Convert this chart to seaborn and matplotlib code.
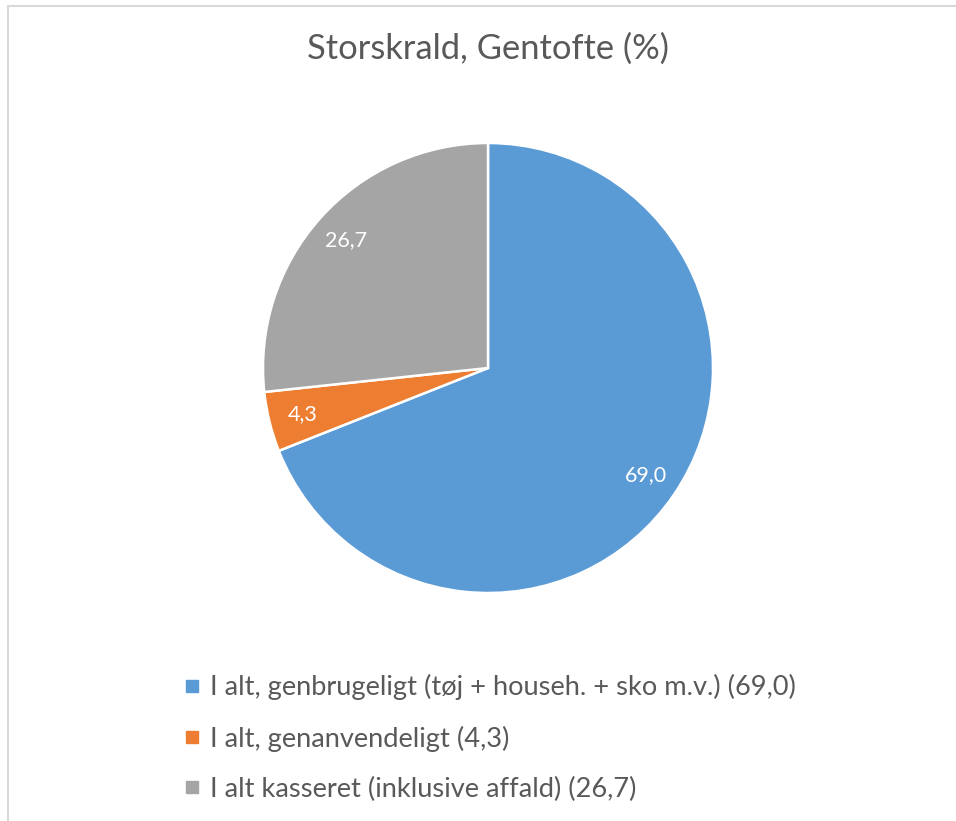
import matplotlib
matplotlib.use("Agg")
import matplotlib.pyplot as plt
import seaborn as sns
from matplotlib.lines import Line2D

# data
categories = [
    "I alt, genbrugeligt (tøj + househ. + sko m.v.)",
    "I alt, genanvendeligt",
    "I alt kasseret (inklusive affald)",
]
values = [69.0, 4.3, 26.7]
colors = ["#5B9BD5", "#ED7D31", "#A5A5A5"]
title = "Storskrald, Gentofte (%)"

sns.set_theme(style="white")
plt.rcParams["font.family"] = ["Lato", "DejaVu Sans"]

W, H = 956, 821
fig = plt.figure(figsize=(W / 100, H / 100), dpi=100)

# pie axes placed so the pie sits where it does in the reference
cx, cy, r = 488, 368, 225
ax = fig.add_axes([(cx - r) / W, (H - cy - r) / H, 2 * r / W, 2 * r / H])

fmt = lambda v: f"{v:.1f}".replace(".", ",")
wedges, texts = ax.pie(
    values,
    colors=colors,
    startangle=90,
    counterclock=False,
    labels=[fmt(v) for v in values],
    labeldistance=0.85,
    wedgeprops=dict(edgecolor="white", linewidth=1.8),
    textprops=dict(color="white", fontsize=15.5, ha="center", va="center"),
)
ax.set_xlim(-1, 1)
ax.set_ylim(-1, 1)
ax.axis("off")

# title centred over the pie, like the reference
fig.text(cx / W, 1 - 49 / H, title, ha="center", va="center",
         fontsize=24.8, color="#595959")

handles = [Line2D([], [], marker="s", linestyle="", markersize=8,
                  markerfacecolor=c, markeredgecolor=c) for c in colors]
leg_labels = [f"{c} ({fmt(v)})" for c, v in zip(categories, values)]
fig.legend(handles, leg_labels, loc="upper left",
           bbox_to_anchor=(184 / W, 1 - 674 / H), frameon=False,
           fontsize=19.6, labelcolor="#595959", handlelength=0.6,
           handletextpad=0.35, labelspacing=0.93, borderpad=0, borderaxespad=0)

# light chart border along the top and left edges
fig.add_artist(Line2D([7.5 / W, 7.5 / W], [0, 1 - 6.5 / H], color="#D9D9D9",
                      linewidth=1.5, transform=fig.transFigure))
fig.add_artist(Line2D([7.5 / W, 1], [1 - 6.5 / H, 1 - 6.5 / H], color="#D9D9D9",
                      linewidth=1.5, transform=fig.transFigure))

fig.savefig("out.png", dpi=100)
